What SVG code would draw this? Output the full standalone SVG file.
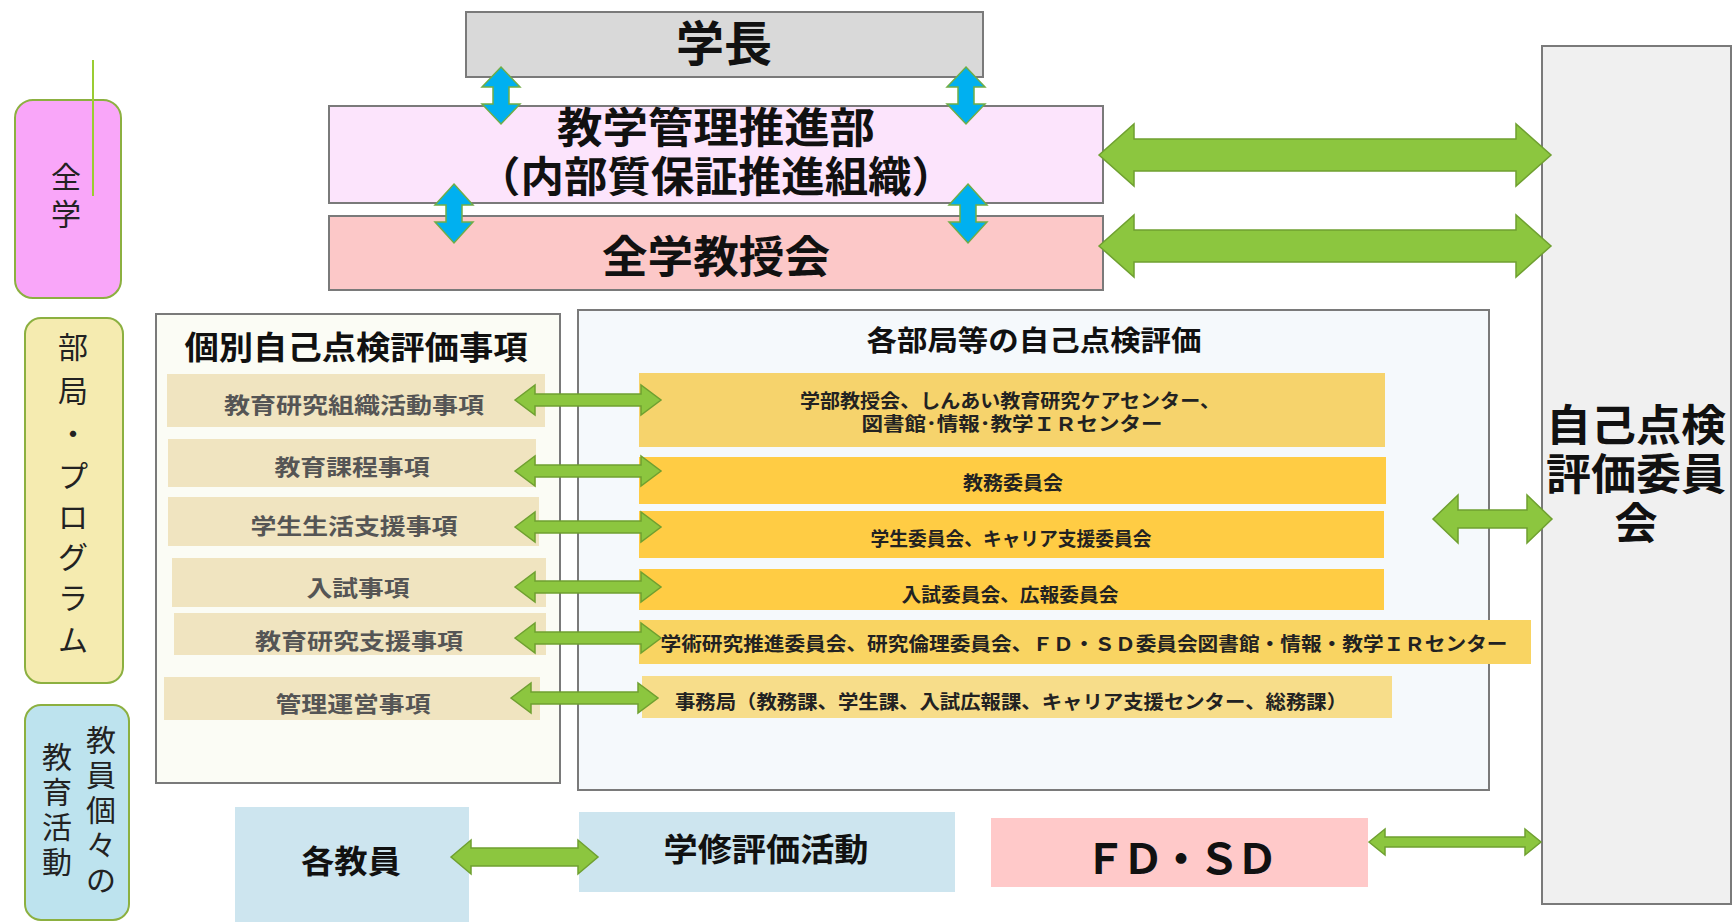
<svg xmlns="http://www.w3.org/2000/svg" width="1736" height="922" viewBox="0 0 1736 922">
<style>
text{font-family:"Liberation Sans","Noto Sans CJK JP",sans-serif;}
.c{text-anchor:middle;dominant-baseline:central;}
.b{font-weight:bold;fill:#111;}
.lbl{font-weight:normal;fill:#222;font-size:30px;}
.row{font-weight:bold;fill:#555;font-size:22px;}
.rt{font-weight:bold;fill:#222;font-size:19px;}
.box{stroke:#7a7a7a;stroke-width:2;}
.side{stroke:#8cb040;stroke-width:2;}
.ga{fill:#8cc63f;stroke:#6fa030;stroke-width:1.5;}
.ba{fill:#00b0f0;stroke:#70ad47;stroke-width:1.5;}
</style>
<rect width="1736" height="922" fill="#ffffff"/>

<g id="side-zengaku">
<rect class="side" x="15" y="100" width="106" height="198" rx="18" fill="#f9a6f9"/>
<text class="lbl c"><tspan x="66" y="177">全</tspan><tspan x="66" y="214">学</tspan></text>
</g>
<line x1="93" y1="60" x2="93" y2="196" stroke="#9acd32" stroke-width="2"/>

<g id="side-bukyoku">
<rect class="side" x="25" y="318" width="98" height="365" rx="16" fill="#f5ebb0"/>
<text class="lbl c"><tspan x="73" y="347">部</tspan><tspan x="73" y="391">局</tspan><tspan x="73" y="434">・</tspan><tspan x="73" y="476">プ</tspan><tspan x="73" y="517">ロ</tspan><tspan x="73" y="557">グ</tspan><tspan x="73" y="598">ラ</tspan><tspan x="73" y="640">ム</tspan></text>
</g>

<g id="side-kyoin">
<rect class="side" x="25" y="705" width="104" height="215" rx="16" fill="#bde3ee"/>
<text class="lbl c"><tspan x="101" y="740">教</tspan><tspan x="101" y="775">員</tspan><tspan x="101" y="810">個</tspan><tspan x="101" y="845">々</tspan><tspan x="101" y="880">の</tspan></text>
<text class="lbl c"><tspan x="57" y="757">教</tspan><tspan x="57" y="792">育</tspan><tspan x="57" y="827">活</tspan><tspan x="57" y="862">動</tspan></text>
</g>

<g id="gakucho">
<rect class="box" x="466" y="12" width="517" height="65" fill="#d9d9d9"/>
<text class="b c" x="724" y="44" font-size="48">学長</text>
</g>

<g id="kyogaku-kanri">
<rect class="box" x="329" y="106" width="774" height="97" fill="#fce4fc"/>
<text class="b c" x="716" y="128" font-size="42" textLength="318" lengthAdjust="spacingAndGlyphs">教学管理推進部</text>
<text class="b c" x="716" y="177" font-size="42" textLength="478" lengthAdjust="spacingAndGlyphs">（内部質保証推進組織）</text>
</g>

<g id="zengaku-kyojukai">
<rect class="box" x="329" y="216" width="774" height="74" fill="#fcc8c8"/>
<text class="b c" x="716" y="257" font-size="44" textLength="228" lengthAdjust="spacingAndGlyphs">全学教授会</text>
</g>

<g id="jiko-tenken-iinkai">
<rect class="box" x="1542" y="46" width="189" height="858" fill="#f0f0f0"/>
<text class="b c" x="1636" y="426" font-size="43" textLength="180" lengthAdjust="spacingAndGlyphs">自己点検</text>
<text class="b c" x="1636" y="475" font-size="43" textLength="180" lengthAdjust="spacingAndGlyphs">評価委員</text>
<text class="b c" x="1636" y="524" font-size="43">会</text>
</g>

<g id="kobetsu">
<rect class="box" x="156" y="314" width="404" height="469" fill="#fbfcf5"/>
<text class="b c" x="356" y="348" font-size="32" textLength="343" lengthAdjust="spacingAndGlyphs">個別自己点検評価事項</text>
<rect x="167" y="374" width="378" height="53" fill="#f0e4c0"/>
<text class="row c" x="354" y="405" textLength="260" lengthAdjust="spacingAndGlyphs">教育研究組織活動事項</text>
<rect x="168" y="439" width="368" height="48" fill="#f0e4c0"/>
<text class="row c" x="352" y="467" textLength="155" lengthAdjust="spacingAndGlyphs">教育課程事項</text>
<rect x="168" y="497" width="371" height="49" fill="#f0e4c0"/>
<text class="row c" x="354" y="526" textLength="207" lengthAdjust="spacingAndGlyphs">学生生活支援事項</text>
<rect x="172" y="558" width="374" height="49" fill="#f0e4c0"/>
<text class="row c" x="358" y="588" textLength="103" lengthAdjust="spacingAndGlyphs">入試事項</text>
<rect x="174" y="613" width="372" height="42" fill="#f0e4c0"/>
<text class="row c" x="359" y="641" textLength="208" lengthAdjust="spacingAndGlyphs">教育研究支援事項</text>
<rect x="164" y="677" width="376" height="43" fill="#f0e4c0"/>
<text class="row c" x="353" y="704" textLength="155" lengthAdjust="spacingAndGlyphs">管理運営事項</text>
</g>

<g id="kaku-bukyoku">
<rect class="box" x="578" y="310" width="911" height="480" fill="#f5f9fc"/>
<text class="b c" x="1034" y="341" font-size="28" textLength="335" lengthAdjust="spacingAndGlyphs">各部局等の自己点検評価</text>
<rect x="639" y="373" width="746" height="74" fill="#f6d36c"/>
<text class="rt c" x="1010" y="401" textLength="420" lengthAdjust="spacingAndGlyphs">学部教授会、しんあい教育研究ケアセンター、</text>
<text class="rt c" x="1012" y="424" textLength="301" lengthAdjust="spacingAndGlyphs">図書館･情報･教学ＩＲセンター</text>
<rect x="639" y="457" width="747" height="47" fill="#ffcc44"/>
<text class="rt c" x="1013" y="483" textLength="100" lengthAdjust="spacingAndGlyphs">教務委員会</text>
<rect x="639" y="511" width="745" height="47" fill="#ffcc44"/>
<text class="rt c" x="1011" y="539" textLength="281" lengthAdjust="spacingAndGlyphs">学生委員会、キャリア支援委員会</text>
<rect x="639" y="569" width="745" height="41" fill="#ffcc44"/>
<text class="rt c" x="1010" y="595" textLength="217" lengthAdjust="spacingAndGlyphs">入試委員会、広報委員会</text>
<rect x="639" y="620" width="892" height="44" fill="#f9d462"/>
<text class="rt c" x="1084" y="644" textLength="847" lengthAdjust="spacingAndGlyphs">学術研究推進委員会、研究倫理委員会、ＦＤ・ＳＤ委員会図書館・情報・教学ＩＲセンター</text>
<rect x="642" y="676" width="750" height="42" fill="#f7dd8a"/>
<text class="rt c" x="1011" y="702" textLength="672" lengthAdjust="spacingAndGlyphs">事務局（教務課、学生課、入試広報課、キャリア支援センター、総務課）</text>
</g>

<g id="kaku-kyoin">
<rect x="235" y="807" width="234" height="115" fill="#cde5ef"/>
<text class="b c" x="351" y="862" font-size="32" textLength="100" lengthAdjust="spacingAndGlyphs">各教員</text>
</g>

<g id="gakushu-hyoka">
<rect x="579" y="812" width="376" height="80" fill="#cde5ef"/>
<text class="b c" x="766" y="850" font-size="32" textLength="205" lengthAdjust="spacingAndGlyphs">学修評価活動</text>
</g>

<g id="fdsd">
<rect x="991" y="818" width="377" height="69" fill="#ffc9c9"/>
<text class="b c" x="1181" y="859" font-size="42" textLength="194" lengthAdjust="spacing">ＦＤ・ＳＤ</text>
</g>

<g id="connectors">
<path class="ba" d="M501,67 L520,87 L509,87 L509,104 L520,104 L501,124 L482,104 L493,104 L493,87 L482,87 Z"/>
<path class="ba" d="M966,67 L985,87 L974,87 L974,104 L985,104 L966,124 L947,104 L958,104 L958,87 L947,87 Z"/>
<path class="ba" d="M454,184 L473,205 L462,205 L462,222 L473,222 L454,243 L435,222 L446,222 L446,205 L435,205 Z"/>
<path class="ba" d="M968,184 L987,205 L976,205 L976,222 L987,222 L968,243 L949,222 L960,222 L960,205 L949,205 Z"/>
<path class="ga" d="M1099,155 L1134,124 L1134,139 L1516,139 L1516,124 L1551,155 L1516,186 L1516,171 L1134,171 L1134,186 Z"/>
<path class="ga" d="M1099,246 L1134,215 L1134,230 L1516,230 L1516,215 L1551,246 L1516,277 L1516,262 L1134,262 L1134,277 Z"/>
<path class="ga" d="M1433,519 L1458,495 L1458,510 L1527,510 L1527,495 L1552,519 L1527,543 L1527,528 L1458,528 L1458,543 Z"/>
<path class="ga" d="M515,400 L535,385 L535,394 L641,394 L641,385 L661,400 L641,415 L641,406 L535,406 L535,415 Z"/>
<path class="ga" d="M515,471 L535,456 L535,465 L641,465 L641,456 L661,471 L641,486 L641,477 L535,477 L535,486 Z"/>
<path class="ga" d="M515,527 L535,512 L535,521 L641,521 L641,512 L661,527 L641,542 L641,533 L535,533 L535,542 Z"/>
<path class="ga" d="M515,587 L535,572 L535,581 L641,581 L641,572 L661,587 L641,602 L641,593 L535,593 L535,602 Z"/>
<path class="ga" d="M515,638 L535,623 L535,632 L641,632 L641,623 L661,638 L641,653 L641,644 L535,644 L535,653 Z"/>
<path class="ga" d="M511,698 L531,683 L531,692 L638,692 L638,683 L658,698 L638,713 L638,704 L531,704 L531,713 Z"/>
<path class="ga" d="M451,857 L471,840 L471,848 L578,848 L578,840 L598,857 L578,874 L578,866 L471,866 L471,874 Z"/>
<path class="ga" d="M1369,842 L1385,829 L1385,837 L1525,837 L1525,829 L1541,842 L1525,855 L1525,847 L1385,847 L1385,855 Z"/>
</g>
</svg>
